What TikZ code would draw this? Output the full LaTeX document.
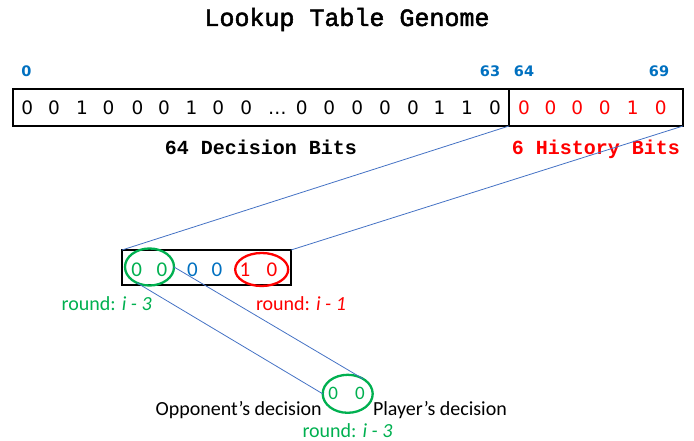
\documentclass[tikz,border=0pt]{standalone}
\usepackage{fontspec}
\setmainfont{Carlito}
\newfontfamily\monofont{Liberation Mono}
\newfontfamily\titlefont[FakeBold=2]{Liberation Mono}
\newfontfamily\digitfont{DejaVu Sans}
\usetikzlibrary{shapes.geometric}
\definecolor{idxblue}{HTML}{0070C0}
\definecolor{bitgreen}{HTML}{00B050}
\definecolor{bitred}{HTML}{FF0000}
\definecolor{linkblue}{HTML}{4472C4}

\begin{document}
\begin{tikzpicture}[x=1pt,y=-1pt,
  monob/.style={font=\monofont\bfseries\fontsize{#1}{#1}\selectfont},
  digit/.style={font=\digitfont\fontsize{#1}{#1}\selectfont},
  digitb/.style={font=\digitfont\bfseries\fontsize{#1}{#1}\selectfont},
  sans/.style={font=\fontsize{#1}{#1}\selectfont},
  txt/.style={anchor=base, inner sep=0pt, outer sep=0pt},
  bitbox/.style={draw, line width=2.6pt, outer sep=0pt, inner sep=0pt, anchor=north west},
  ring/.style={ellipse, draw=#1, line width=2.3pt, inner sep=0pt, outer sep=0pt},
  link/.style={draw=linkblue, line width=0.8pt}]
\useasboundingbox (0,0) rectangle (694,441);

% title
\node[txt, font=\titlefont\fontsize{25}{25}\selectfont] (title) at (347,26) {Lookup Table Genome};

% bit indices
\node[txt, digitb=14.5, text=idxblue] (i0)  at (26.5,77) {0};
\node[txt, digitb=14.5, text=idxblue] (i63) at (490,77) {63};
\node[txt, digitb=14.5, text=idxblue] (i64) at (524,77) {64};
\node[txt, digitb=14.5, text=idxblue] (i69) at (659,77) {69};

% genome: decision part and history part
\node[bitbox, minimum width=496, minimum height=37] (dec) at (13,89) {};
\node[bitbox, minimum width=174, minimum height=37] (hist) at (509,89) {};

\foreach \x/\b [count=\k] in {27.2/0,53.9/0,81.9/1,108.5/0,137.4/0,164.1/0,191.6/1,218.3/0,246.3/0,
  277.4/…,301.8/0,329.3/0,357.3/0,384.9/0,412.9/0,439.5/1,467.1/1,495.1/0}
  \node[txt, digit=18.5] (d\k) at (\x,114.3) {\b};

\foreach \x/\b [count=\k] in {524/0,550.6/0,577.3/0,604.8/0,632.8/1,660.8/0}
  \node[txt, digit=18.5, text=bitred] (h\k) at (\x,114.3) {\b};

\node[txt, monob=20] (declabel) at (261,155) {64 Decision Bits};
\node[txt, monob=20, text=bitred] (histlabel) at (596,155) {6 History Bits};

% history bits, enlarged
\node[bitbox, minimum width=169, minimum height=35] (hb) at (122,250) {};
\node[txt, sans=21, text=bitgreen] (s1) at (136.7,276.7) {0};
\node[txt, sans=21, text=bitgreen] (s2) at (162,276.7) {0};
\node[txt, sans=21, text=idxblue]  (s3) at (192.5,276.7) {0};
\node[txt, sans=21, text=idxblue]  (s4) at (217,276.7) {0};
\node[txt, sans=21, text=bitred]   (s5) at (245,276.7) {1};
\node[txt, sans=21, text=bitred]   (s6) at (272,276.7) {0};

\node[ring=bitgreen, minimum width=49, minimum height=37] (gring) at (149.5,267) {};
\node[ring=bitred, minimum width=53, minimum height=33] (rring) at (261.7,269.5) {};

\node[txt, sans=20, text=bitgreen] (gl) at (106.7,310) {round: \textit{i - 3}};
\node[txt, sans=20, text=bitred] (rl) at (301,310) {round: \textit{i - 1}};

% one round, both players
\node[ring=bitgreen, minimum width=50, minimum height=38] (pair) at (347.7,393.8) {};
\node[txt, sans=19, text=bitgreen] (p1) at (333.3,399.3) {0};
\node[txt, sans=19, text=bitgreen] (p2) at (360,399.3) {0};
\node[txt, sans=20, anchor=base east] (opp) at (321.7,415) {Opponent’s decision};
\node[txt, sans=20, anchor=base west] (ply) at (373,415) {Player’s decision};
\node[txt, sans=20, text=bitgreen] (pl) at (347.5,437.3) {round: \textit{i - 3}};

% connectors
\draw[link] (dec.south east) -- (hb.north west);
\draw[link] (hist.south east) -- (hb.north east);
\draw[link] (gring.232) -- (pair.west);
\draw[link] (gring.east) -- (pair.44);
\end{tikzpicture}
\end{document}
